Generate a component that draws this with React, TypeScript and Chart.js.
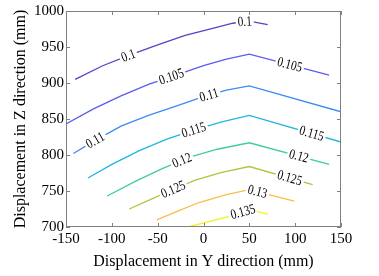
import React, { useEffect, useRef } from 'react';
import { Chart, registerables } from 'chart.js';
Chart.register(...registerables);

const xTicks = [-150, -100, -50, 0, 50, 100, 150];
const yTicks = [700, 750, 800, 850, 900, 950, 1000];
const levelLabels = ['0.1', '0.105', '0.11', '0.115', '0.12', '0.125', '0.13', '0.135'];
const levelColors = ['#5a40c8', '#5b5cf0', '#3d8bf5', '#22b5e0', '#40cca0', '#a8c840', '#fcbc48', '#f2f21e'];

const c100X = [-140, -110, -80, -50, -20, 10, 32, 50, 70];
const c100Y = [905, 924, 939, 953, 966, 976, 983, 986, 981];
const c105X = [-150, -120, -90, -60, -30, 0, 25, 50, 137];
const c105Y = [843, 864, 882, 898, 911, 924, 933, 940, 911];
const c110X = [-142, -120, -90, -60, -30, 0, 25, 50, 150];
const c110Y = [802, 819, 840, 855, 868, 881, 890, 896, 860];
const c115X = [-126, -100, -70, -40, -10, 20, 50, 150];
const c115Y = [768, 787, 806, 822, 835, 846, 855, 818];
const c120X = [-105, -75, -45, -15, 15, 50, 137];
const c120Y = [743, 763, 781, 797, 808, 817, 787];
const c125X = [-81, -60, -35, -9, 20, 50, 119];
const c125Y = [725, 737, 751, 765, 776, 784, 759];
const c130X = [-51, -30, -5, 25, 50, 99];
const c130Y = [710, 721, 734, 745, 752, 736];
const c135X = [-17, 10, 29, 50, 70];
const c135Y = [700, 709, 715, 724, 718];

const contourX = [c100X, c105X, c110X, c115X, c120X, c125X, c130X, c135X];
const contourY = [c100Y, c105Y, c110Y, c115Y, c120Y, c125Y, c130Y, c135Y];
const labelPositions = [[-82, 45], [-35, 94], [-118, 6], [-10.5, 118], [-23.5, 104], [-33, 94], [59], [43]];

const contourLabelsPlugin = {
  id: 'contourLabels',
  afterDatasetsDraw(chart: any) {
    const ctx = chart.ctx;
    const xs = chart.scales.x;
    const ys = chart.scales.y;
    chart.data.datasets.forEach((ds: any, i: number) => {
      const pts = ds.data.map((p: any) => [xs.getPixelForValue(p.x), ys.getPixelForValue(p.y)]);
      const at = (px: number) => {
        if (px <= pts[0][0]) return pts[0][1];
        for (let k = 1; k < pts.length; k++) {
          if (px <= pts[k][0]) {
            const t = (px - pts[k - 1][0]) / (pts[k][0] - pts[k - 1][0]);
            return pts[k - 1][1] + t * (pts[k][1] - pts[k - 1][1]);
          }
        }
        return pts[pts.length - 1][1];
      };
      labelPositions[i].forEach((lx) => {
        const text = levelLabels[i];
        const cx = xs.getPixelForValue(lx);
        const cy = at(cx);
        const a = Math.atan2(at(cx + 8) - at(cx - 8), 16);
        ctx.save();
        ctx.translate(cx, cy);
        ctx.rotate(a);
        ctx.font = '14px "Liberation Serif"';
        const sx = 0.8;
        const w = ctx.measureText(text).width * sx;
        ctx.fillStyle = '#ffffff';
        ctx.fillRect(-w / 2 - 2, -3.5, w + 4, 7);
        ctx.scale(sx, 1);
        ctx.fillStyle = '#000000';
        ctx.textAlign = 'center';
        ctx.textBaseline = 'middle';
        ctx.fillText(text, 0, 0.5);
        ctx.restore();
      });
    });
  },
};

const framePlugin = {
  id: 'frame',
  afterDraw(chart: any) {
    const { ctx, chartArea } = chart;
    const { left, right, top, bottom } = chartArea;
    const xs = chart.scales.x;
    const ys = chart.scales.y;
    ctx.save();
    ctx.strokeStyle = '#808080';
    ctx.lineWidth = 1;
    ctx.strokeRect(left + 0.5, top + 0.5, right - left - 1, bottom - top - 1);
    ctx.beginPath();
    xTicks.forEach((v) => {
      const px = Math.round(xs.getPixelForValue(v)) + 0.5;
      ctx.moveTo(px, bottom);
      ctx.lineTo(px, bottom - 4);
      ctx.moveTo(px, top);
      ctx.lineTo(px, top + 4);
    });
    yTicks.forEach((v) => {
      const py = Math.round(ys.getPixelForValue(v)) + 0.5;
      ctx.moveTo(left, py);
      ctx.lineTo(left + 4, py);
      ctx.moveTo(right, py);
      ctx.lineTo(right - 4, py);
    });
    ctx.stroke();
    ctx.restore();
  },
};

export default function App() {
  const ref = useRef<HTMLCanvasElement>(null);
  useEffect(() => {
    if (!ref.current) return;
    const datasets = contourX.map((xsArr, i) => ({
      label: levelLabels[i],
      data: xsArr.map((x, k) => ({ x, y: contourY[i][k] })),
      showLine: true,
      borderColor: levelColors[i],
      backgroundColor: levelColors[i],
      borderWidth: 1.3,
      pointRadius: 0,
      tension: 0,
      fill: false,
    }));
    const tickFont = { family: '"Liberation Serif"', size: 15 };
    const titleFont = { family: '"Liberation Serif"', size: 16 };
    const chart = new Chart(ref.current, {
      type: 'scatter',
      data: { datasets },
      options: {
        animation: false,
        responsive: false,
        devicePixelRatio: 1,
        layout: { padding: { left: 0, right: 38, top: 10, bottom: 0 } },
        plugins: { legend: { display: false }, tooltip: { enabled: false } },
        scales: {
          x: {
            type: 'linear',
            min: -150,
            max: 150,
            afterFit: (s: any) => { s.height = 49; },
            afterBuildTicks: (s: any) => { s.ticks = xTicks.map((v) => ({ value: v })); },
            grid: { display: false, drawTicks: false },
            border: { display: false },
            ticks: { color: '#000', font: tickFont, padding: 3, maxRotation: 0, autoSkip: false, callback: (v: any) => String(v) },
            title: { display: true, text: 'Displacement in Y direction (mm)', color: '#000', font: titleFont, padding: { top: 0, bottom: 5 } },
          },
          y: {
            type: 'linear',
            min: 700,
            max: 1000,
            afterFit: (s: any) => { s.width = 66; },
            afterBuildTicks: (s: any) => { s.ticks = yTicks.map((v) => ({ value: v })); },
            grid: { display: false, drawTicks: false },
            border: { display: false },
            ticks: { color: '#000', font: tickFont, padding: 2, autoSkip: false, callback: (v: any) => String(v) },
            title: { display: true, text: 'Displacement in Z direction (mm)', color: '#000', font: titleFont, padding: { top: 11, bottom: 0 } },
          },
        },
      },
      plugins: [contourLabelsPlugin, framePlugin],
    } as any);
    return () => chart.destroy();
  }, []);
  return (
    <div style={{ position: 'fixed', left: 0, top: 0, width: 379, height: 276, background: '#fff' }}>
      <canvas ref={ref} width={379} height={276} style={{ width: 379, height: 276 }} />
    </div>
  );
}
